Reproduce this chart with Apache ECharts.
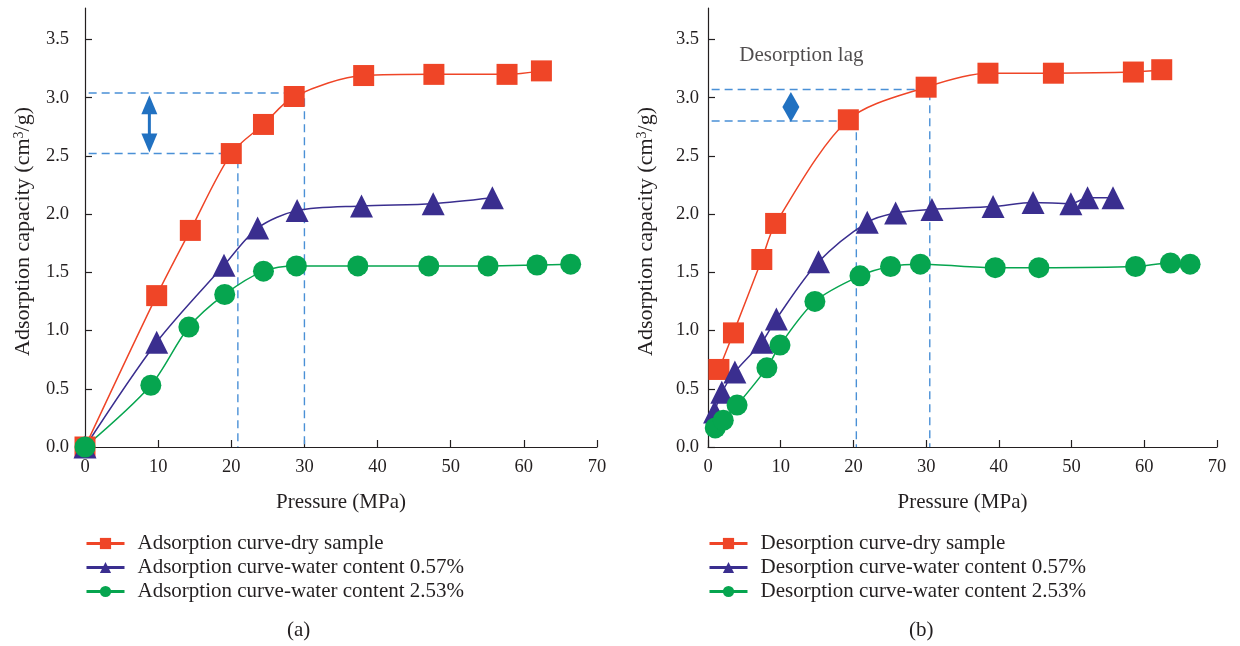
<!DOCTYPE html>
<html><head><meta charset="utf-8">
<script src="https://cdn.jsdelivr.net/npm/echarts@6/dist/echarts.min.js"></script>
<style>html,body{margin:0;padding:0;background:#fff}#c{width:1240px;height:646px}</style>
</head><body><div id="c"></div>
<script>
// Panel (a) adsorption data [pressure MPa, capacity cm3/g]
const adsDry = [[0,0],[9.8,1.30],[14.4,1.86],[20.0,2.52],[24.4,2.77],[28.6,3.01],[38.1,3.19],[47.7,3.20],[57.7,3.20],[62.4,3.23]];
const adsW057 = [[0,0],[9.8,0.90],[19.0,1.56],[23.6,1.88],[29.0,2.03],[37.8,2.07],[47.6,2.09],[55.7,2.14]];
const adsW253 = [[0,0],[9.0,0.53],[14.2,1.03],[19.1,1.31],[24.4,1.51],[28.9,1.555],[37.3,1.555],[47.0,1.555],[55.1,1.555],[61.8,1.563],[66.4,1.57]];
// Panel (b) desorption data
const desDry = [[1.5,0.666],[3.5,0.98],[7.4,1.61],[9.3,1.92],[19.3,2.81],[30.0,3.09],[38.5,3.21],[47.5,3.21],[58.5,3.22],[62.4,3.24]];
const desW057 = [[0.9,0.30],[1.9,0.47],[3.7,0.645],[7.4,0.90],[9.4,1.10],[15.2,1.59],[21.9,1.93],[25.8,2.01],[30.8,2.04],[39.2,2.065],[44.7,2.10],[49.9,2.09],[52.2,2.14],[55.7,2.14]];
const desW253 = [[1.0,0.164],[2.1,0.23],[4.0,0.36],[8.1,0.68],[9.9,0.875],[14.7,1.25],[20.9,1.47],[25.1,1.55],[29.2,1.57],[39.5,1.54],[45.5,1.54],[58.8,1.55],[63.6,1.58],[66.3,1.57]];
// Reference (dashed) guide lines
const refA1 = [[0.5,3.04],[30.0,3.04],[30.0,0]];
const refA2 = [[0.5,2.52],[20.9,2.52],[20.9,0]];
const refB1 = [[0.5,3.07],[30.5,3.07],[30.5,0]];
const refB2 = [[0.5,2.80],[20.4,2.80],[20.4,0]];
const arrowA = [[8.8,2.94],[8.8,2.61]];
const diamondB = [[11.4,2.92]];
const lagLabel = [[4.3,3.36]];
const namesA = ['Adsorption curve-dry sample','Adsorption curve-water content 0.57%','Adsorption curve-water content 2.53%'];
const namesB = ['Desorption curve-dry sample','Desorption curve-water content 0.57%','Desorption curve-water content 2.53%'];

const RED='#ef4527', BLUE='#3a2e8f', GREEN='#06a54f', DASH='#4a90d6', ARROW='#2171c1';
const FONT='Liberation Serif';
const TXT='#231f20';

function xAx(i){return {type:'value',gridIndex:i,min:0,max:70,interval:10,
  name:'Pressure (MPa)',nameLocation:'middle',nameGap:45,
  nameTextStyle:{fontFamily:FONT,fontSize:21,color:TXT},
  axisLine:{lineStyle:{color:'#231f20',width:1.2}},
  axisTick:{inside:true,length:7,lineStyle:{color:'#231f20',width:1.2}},
  axisLabel:{fontFamily:FONT,fontSize:18.5,color:TXT,margin:11},
  splitLine:{show:false}};}
function yAx(i,m){return {type:'value',gridIndex:i,min:0,max:3.77,interval:0.5,
  name:'Adsorption capacity (cm{sup|3}/g)',nameLocation:'middle',nameGap:51,
  nameTextStyle:{fontFamily:FONT,fontSize:22,color:TXT,padding:[0,8,0,0],
    rich:{sup:{fontFamily:FONT,fontSize:14,color:TXT,verticalAlign:'top',lineHeight:14}}},
  axisLine:{lineStyle:{color:'#231f20',width:1.2}},
  axisTick:{inside:true,length:7,lineStyle:{color:'#231f20',width:1.2}},
  axisLabel:{fontFamily:FONT,fontSize:18.5,color:TXT,margin:m,showMaxLabel:false,formatter:v=>v.toFixed(1)},
  splitLine:{show:false}};}

function dataSeries(name,data,i,color,symbol,size){
  return {name:name,type:'line',xAxisIndex:i,yAxisIndex:i,data:data,smooth:0.3,
    symbol:symbol,symbolSize:size,showAllSymbol:true,
    lineStyle:{color:color,width:1.5},itemStyle:{color:color},z:5};
}
function refSeries(data,i){
  return {type:'line',xAxisIndex:i,yAxisIndex:i,data:data,symbol:'none',silent:true,
    lineStyle:{color:DASH,width:1.4,type:[8,5]},z:2};
}

const series=[
  refSeries(refA1,0),refSeries(refA2,0),refSeries(refB1,1),refSeries(refB2,1),
  dataSeries(namesA[0],adsDry,0,RED,'rect',21),
  dataSeries(namesA[1],adsW057,0,BLUE,'triangle',23),
  dataSeries(namesA[2],adsW253,0,GREEN,'circle',21),
  dataSeries(namesB[0],desDry,1,RED,'rect',21),
  dataSeries(namesB[1],desW057,1,BLUE,'triangle',23),
  dataSeries(namesB[2],desW253,1,GREEN,'circle',21),
  {type:'line',xAxisIndex:0,yAxisIndex:0,silent:true,
   data:[{value:arrowA[0],symbolRotate:0},{value:arrowA[1],symbolRotate:180}],
   symbol:'triangle',symbolSize:[16,19],showAllSymbol:true,
   lineStyle:{color:ARROW,width:3},itemStyle:{color:ARROW},z:4},
  {type:'scatter',xAxisIndex:1,yAxisIndex:1,silent:true,data:diamondB,
   symbol:'diamond',symbolSize:[17,30],itemStyle:{color:ARROW,opacity:1},z:4},
  {type:'scatter',xAxisIndex:1,yAxisIndex:1,silent:true,data:lagLabel,symbolSize:0,
   label:{show:true,position:'right',distance:0,formatter:'Desorption lag',
     fontFamily:FONT,fontSize:21,color:TXT}}
];

function legend(left,names){
  return {orient:'vertical',left:left,top:528,itemGap:3,itemWidth:38,itemHeight:14,
    data:names,selectedMode:false,
    textStyle:{fontFamily:FONT,fontSize:21,color:TXT,padding:[0,0,0,8]},
    lineStyle:{width:3}};
}

const chart=echarts.init(document.getElementById('c'),null,{renderer:'canvas'});
chart.setOption({
  animation:false,
  backgroundColor:'#fff',
  grid:[{left:85,top:8,width:512,height:439},{left:708,top:8,width:509,height:439}],
  xAxis:[xAx(0),xAx(1)],
  yAxis:[yAx(0,16),yAx(1,9)],
  legend:[legend(80,namesA),legend(703,namesB)],
  graphic:[
    {type:'text',left:287,top:620,style:{text:'(a)',font:'21px "Liberation Serif"',fill:TXT}},
    {type:'text',left:909,top:620,style:{text:'(b)',font:'21px "Liberation Serif"',fill:TXT}}
  ],
  series:series
});
</script></body></html>
